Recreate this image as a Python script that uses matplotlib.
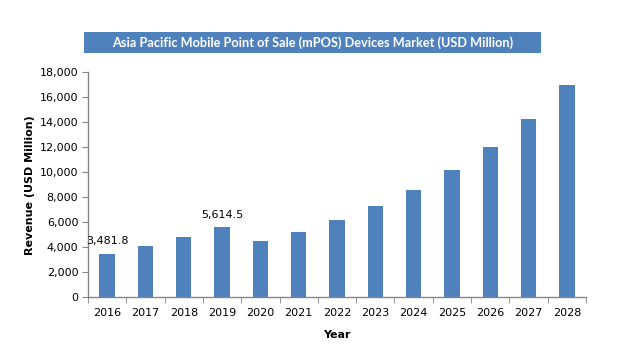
import matplotlib
matplotlib.use("Agg")
import matplotlib.pyplot as plt
from matplotlib.patches import Rectangle
from matplotlib.ticker import FuncFormatter, FixedLocator

years = ["2016", "2017", "2018", "2019", "2020", "2021", "2022",
         "2023", "2024", "2025", "2026", "2027", "2028"]
revenue = [3481.8, 4100, 4820, 5614.5, 4500, 5220, 6180,
           7300, 8580, 10180, 12020, 14260, 16980]
labelled = {0: "3,481.8", 3: "5,614.5"}
title = "Asia Pacific Mobile Point of Sale (mPOS) Devices Market (USD Million)"

W, H = 619, 361
fig = plt.figure(figsize=(W / 100, H / 100), dpi=100)
ax = fig.add_axes([88 / W, 1 - 297.3 / H, (586 - 88) / W, (297.3 - 72) / H])

bar_color = "#4F81BD"
axis_color = "#868686"
x = list(range(len(years)))
ax.bar(x, revenue, width=0.4, color=bar_color, zorder=2)

for i, txt in labelled.items():
    ax.text(i, revenue[i] + 600, txt, ha="center", va="bottom",
            fontsize=8, color="#000000")

ax.set_xlim(-0.5, len(years) - 0.5)
ax.set_ylim(0, 18000)
ax.set_yticks(range(0, 18001, 2000))
ax.yaxis.set_major_formatter(FuncFormatter(lambda v, p: f"{int(v):,}"))
ax.set_xticks(x)
ax.set_xticklabels(years)
ax.xaxis.set_minor_locator(FixedLocator([i - 0.5 for i in range(len(years) + 1)]))
ax.tick_params(axis="x", which="major", length=0, pad=8, labelsize=8)
ax.tick_params(axis="x", which="minor", length=4, color=axis_color, direction="out")
ax.tick_params(axis="y", which="major", length=4, color=axis_color, labelsize=8, pad=3)

for s in ["top", "right"]:
    ax.spines[s].set_visible(False)
for s in ["left", "bottom"]:
    ax.spines[s].set_color(axis_color)
    ax.spines[s].set_linewidth(1.0)

ax.set_xlabel("Year", fontsize=8, fontweight="bold", labelpad=8)
ax.set_ylabel("Revenue (USD Million)", fontsize=8, fontweight="bold", labelpad=3)

fig.patches.append(Rectangle((84 / W, 1 - 53 / H), (541 - 84) / W, 21 / H,
                             transform=fig.transFigure, facecolor=bar_color,
                             edgecolor="none"))
fig.text(312.5 / W, 1 - 42.5 / H, title, ha="center", va="center",
         color="white", fontsize=9.2, fontweight="bold", family="Lato")

fig.savefig("out.png", dpi=100)
